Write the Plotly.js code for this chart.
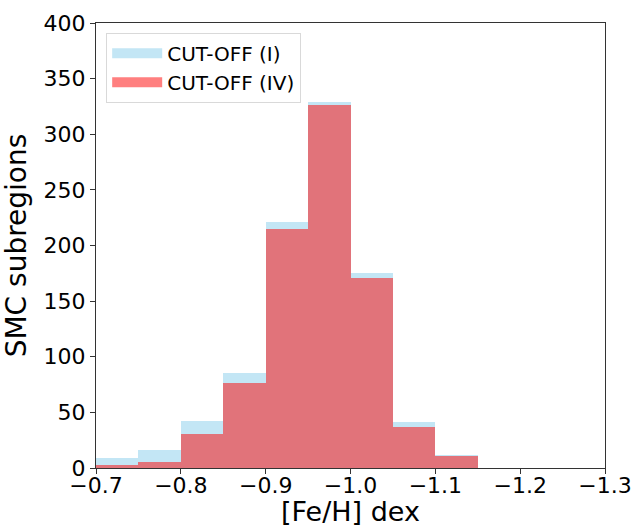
<!DOCTYPE html>
<html>
<head>
<meta charset="utf-8">
<script src="https://cdn.plot.ly/plotly-3.0.1.min.js"></script>
<style>
html,body{margin:0;padding:0;background:#fff;}
#chart{width:636px;height:527px;}
</style>
</head>
<body>
<div id="chart"></div>
<script>
// Bin left edges ([Fe/H] dex) and bin width
const binEdges = [-0.70, -0.75, -0.80, -0.85, -0.90, -0.95, -1.00, -1.05, -1.10];
const binWidth = 0.05;
// Counts of SMC subregions per bin
const countsCutI  = [9, 16, 42, 85, 221, 329, 175, 41, 12];
const countsCutIV = [3, 5, 31, 76, 215, 326, 171, 37, 11];
const seriesNames = ['CUT-OFF (I)', 'CUT-OFF (IV)'];
const seriesColors = ['rgba(135,206,235,0.5)', 'rgba(255,0,0,0.5)'];
const xTicks = [-0.7, -0.8, -0.9, -1.0, -1.1, -1.2, -1.3];
const yTicks = [0, 50, 100, 150, 200, 250, 300, 350, 400];

const centers = binEdges.map(e => e - binWidth / 2);
const widths = binEdges.map(() => binWidth);
const fontFam = 'DejaVu Sans, sans-serif';

const barTrace = (vals, i) => ({
  type: 'bar', x: centers, y: vals, width: widths,
  name: seriesNames[i], showlegend: false,
  marker: {color: seriesColors[i], line: {width: 0}},
  hoverinfo: 'skip'
});
// legend entries drawn as wide patches
const legendTrace = i => ({
  type: 'scatter', mode: 'lines', x: [null], y: [null],
  name: seriesNames[i], showlegend: true,
  line: {color: seriesColors[i], width: 14},
  hoverinfo: 'skip'
});

const traces = [barTrace(countsCutI, 0), barTrace(countsCutIV, 1), legendTrace(0), legendTrace(1)];

const layout = {
  width: 636, height: 527,
  margin: {l: 96, r: 31, t: 23, b: 59, pad: 0},
  paper_bgcolor: '#fff', plot_bgcolor: '#fff',
  barmode: 'overlay', bargap: 0,
  font: {family: fontFam, color: '#000'},
  showlegend: true,
  legend: {
    x: 0.02, y: 0.978, xanchor: 'left', yanchor: 'top',
    bgcolor: 'rgba(255,255,255,0.8)', bordercolor: '#d9d9d9', borderwidth: 1,
    font: {family: fontFam, size: 20, color: '#000'},
    itemwidth: 50, traceorder: 'normal'
  },
  xaxis: {
    range: [-0.7, -1.3],
    tickvals: xTicks,
    ticktext: xTicks.map(v => '\u2212' + Math.abs(v).toFixed(1)),
    ticks: 'outside', ticklen: 5, tickwidth: 1, tickcolor: '#333',
    ticklabelstandoff: -7,
    tickfont: {family: fontFam, size: 22, color: '#000'},
    showgrid: false, zeroline: false,
    showline: true, mirror: true, linecolor: '#333', linewidth: 1,
    title: {text: '[Fe/H] dex', font: {family: fontFam, size: 27, color: '#000'}, standoff: 6}
  },
  yaxis: {
    range: [0, 400],
    tickvals: yTicks,
    ticks: 'outside', ticklen: 5, tickwidth: 1, tickcolor: '#333',
    tickfont: {family: fontFam, size: 22, color: '#000'},
    showgrid: false, zeroline: false,
    showline: true, mirror: true, linecolor: '#333', linewidth: 1,
    title: {text: 'SMC subregions', font: {family: fontFam, size: 28, color: '#000'}, standoff: 9}
  }
};

Plotly.newPlot('chart', traces, layout, {displayModeBar: false, staticPlot: true});
</script>
</body>
</html>
